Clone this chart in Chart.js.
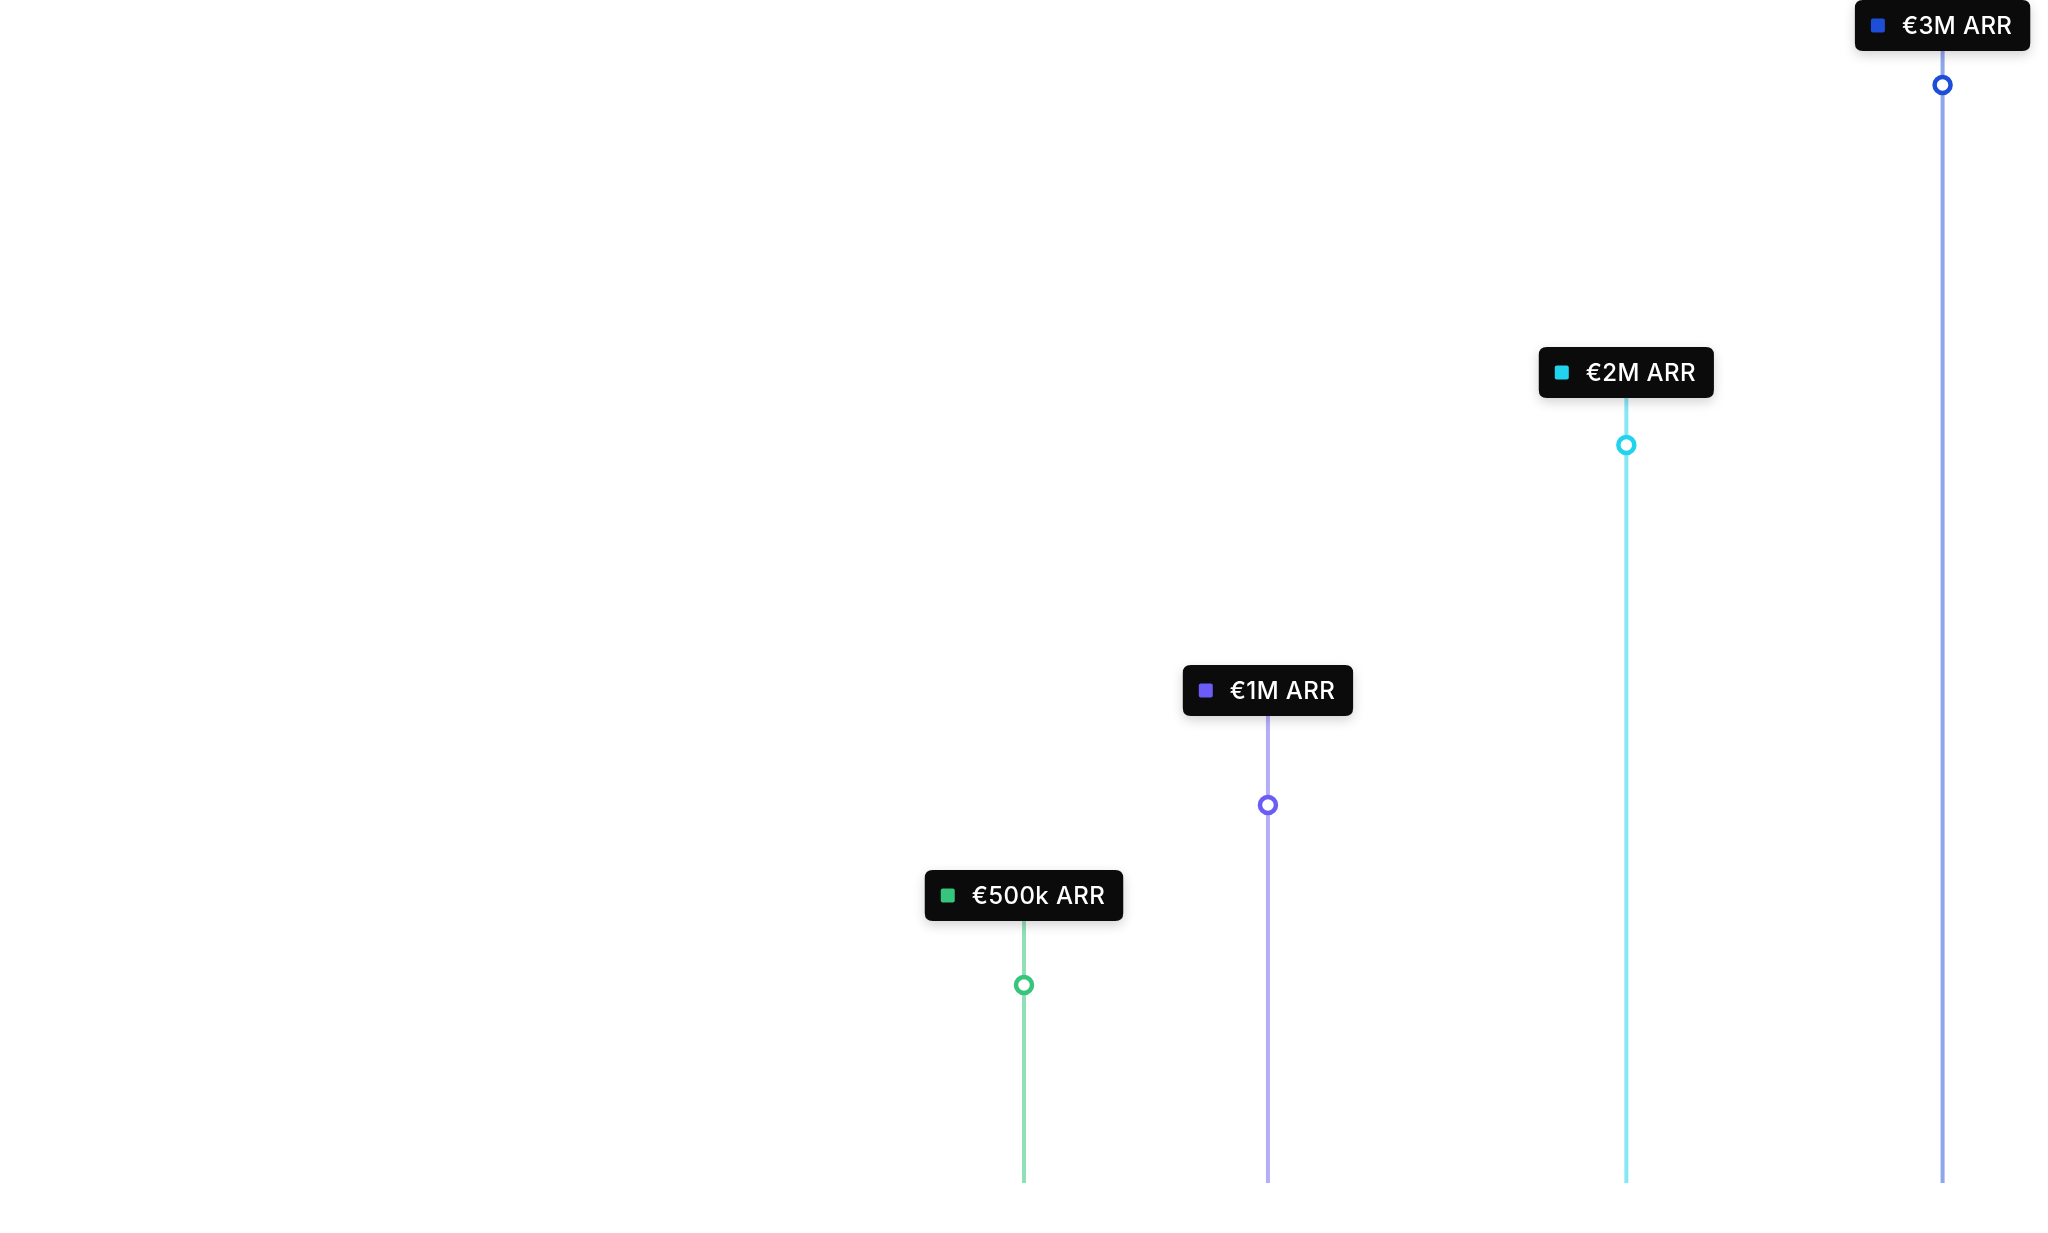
<!DOCTYPE html>
<html>
<head>
<meta charset="utf-8">
<title>ARR milestones</title>
<script src="https://cdn.jsdelivr.net/npm/chart.js@4/dist/chart.umd.min.js"></script>
<style>
  html, body { margin: 0; padding: 0; background: #ffffff; overflow: hidden; }
  #wrap { width: 2048px; height: 1233px; position: relative; }
  #wrap canvas { display: block; }
</style>
</head>
<body>
<div id="wrap"><canvas id="milestoneChart"></canvas></div>
<script>
// milestone data: month since launch, ARR in € millions, label text
const milestoneMonths = [18, 26.1, 38, 48.5];
const arrValues = [0.5, 1, 2, 3];
const milestoneLabels = ["€500k ARR", "€1M ARR", "€2M ARR", "€3M ARR"];

// styling
const markerColors = ["#36c57c", "#6b5cf6", "#22d3ee", "#1d4ed8"];
const stemColors = ["rgba(54,197,124,.55)", "rgba(107,92,246,.5)", "rgba(34,211,238,.55)", "rgba(29,78,216,.5)"];
const labelLift = [64, 89, 47, 34]; // px between point and bottom of its label box

const FONT = "Inter, 'Noto Sans', sans-serif";

function roundRect(ctx, x, y, w, h, r) {
  ctx.beginPath();
  ctx.moveTo(x + r, y);
  ctx.lineTo(x + w - r, y);
  ctx.quadraticCurveTo(x + w, y, x + w, y + r);
  ctx.lineTo(x + w, y + h - r);
  ctx.quadraticCurveTo(x + w, y + h, x + w - r, y + h);
  ctx.lineTo(x + r, y + h);
  ctx.quadraticCurveTo(x, y + h, x, y + h - r);
  ctx.lineTo(x, y + r);
  ctx.quadraticCurveTo(x, y, x + r, y);
  ctx.closePath();
}

// stems + label boxes, positioned from the chart's own scales
const milestonePlugin = {
  id: "milestones",
  beforeDatasetsDraw(chart) {
    const { ctx, scales } = chart;
    const yBase = scales.y.getPixelForValue(scales.y.min);
    ctx.save();
    milestoneMonths.forEach((m, i) => {
      const x = scales.x.getPixelForValue(m);
      const y = scales.y.getPixelForValue(arrValues[i]);
      ctx.strokeStyle = stemColors[i];
      ctx.lineWidth = 4;
      ctx.beginPath();
      ctx.moveTo(x, yBase);
      ctx.lineTo(x, y - labelLift[i]);
      ctx.stroke();
    });
    ctx.restore();
  },
  afterDatasetsDraw(chart) {
    const { ctx, scales } = chart;
    ctx.save();
    ctx.font = "500 24px " + FONT;
    if ("letterSpacing" in ctx) ctx.letterSpacing = "0.4px";
    ctx.textBaseline = "middle";
    milestoneMonths.forEach((m, i) => {
      const x = scales.x.getPixelForValue(m);
      const y = scales.y.getPixelForValue(arrValues[i]);
      const tw = ctx.measureText(milestoneLabels[i]).width;
      const boxH = 51;
      const boxW = 16 + 14 + 17 + tw + 18;
      const bx = x - boxW / 2;
      const by = y - labelLift[i] - boxH;

      ctx.save();
      ctx.shadowColor = "rgba(0,0,0,.18)";
      ctx.shadowBlur = 12;
      ctx.shadowOffsetY = 4;
      ctx.fillStyle = "#0b0b0c";
      roundRect(ctx, bx, by, boxW, boxH, 8);
      ctx.fill();
      ctx.restore();

      ctx.fillStyle = markerColors[i];
      roundRect(ctx, bx + 16, by + boxH / 2 - 7, 14, 14, 2);
      ctx.fill();

      ctx.fillStyle = "#ffffff";
      ctx.textAlign = "left";
      ctx.fillText(milestoneLabels[i], bx + 47, by + boxH / 2 + 1);
    });
    ctx.restore();
  },
};

const datasets = milestoneMonths.map((m, i) => ({
  label: milestoneLabels[i],
  data: [{ x: m, y: arrValues[i] }],
  pointRadius: 8,
  pointBorderWidth: 4.5,
  pointBackgroundColor: "#ffffff",
  pointBorderColor: markerColors[i],
  showLine: false,
}));

new Chart(document.getElementById("milestoneChart"), {
  type: "scatter",
  data: { datasets },
  options: {
    responsive: true,
    maintainAspectRatio: false,
    animation: false,
    layout: { autoPadding: false, padding: { top: 13, bottom: 50, left: 0, right: 0 } },
    plugins: { legend: { display: false }, tooltip: { enabled: false } },
    scales: {
      x: { type: "linear", min: -16, max: 52, bounds: "data", display: false },
      y: { type: "linear", min: -0.05, max: 3.2, display: false },
    },
  },
  plugins: [milestonePlugin],
});
</script>
</body>
</html>
